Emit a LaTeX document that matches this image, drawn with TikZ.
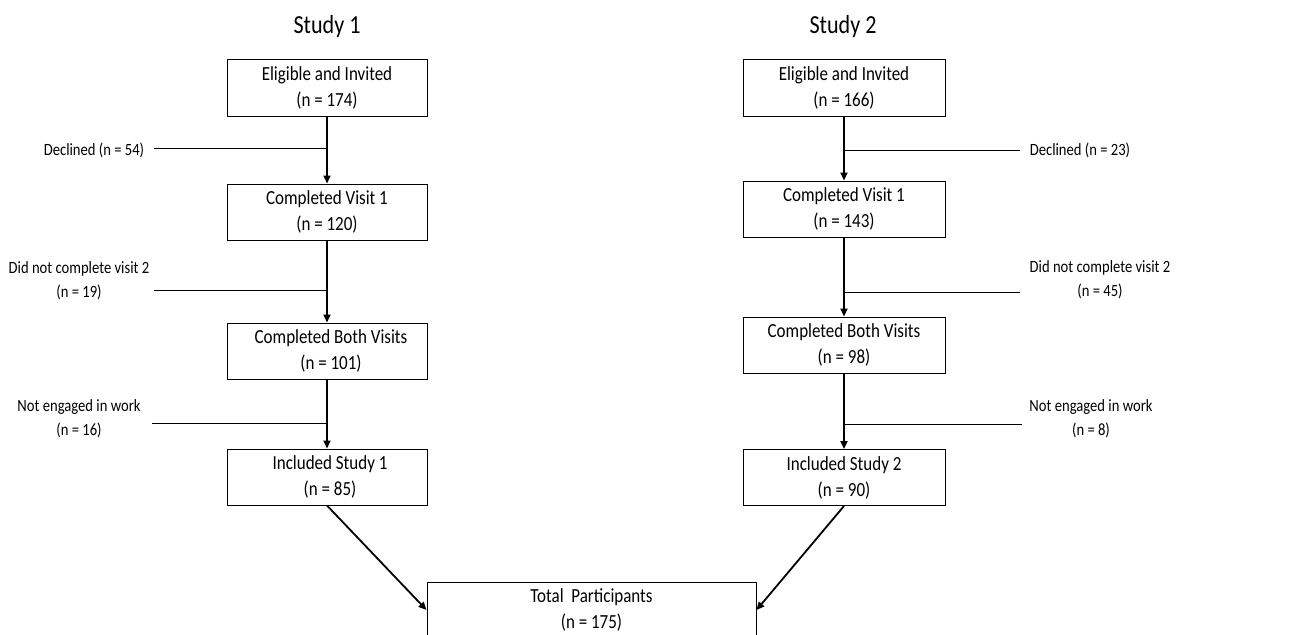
\documentclass[tikz,border=0pt]{standalone}
\usepackage{fontspec}
\setmainfont{Carlito}[FakeStretch=0.85]
\usetikzlibrary{arrows.meta}
\begin{document}
\begin{tikzpicture}[x=1pt,y=-1pt,
  box/.style={draw, line width=1pt, minimum width=200pt, minimum height=56pt, inner sep=0pt, align=center, font=\fontsize{20}{26}\selectfont},
  title/.style={font=\fontsize{26}{30}\selectfont},
  side/.style={align=center, inner sep=0pt, font=\fontsize{17.2}{24}\selectfont},
  flow/.style={line width=1.8pt, -{Triangle[length=8pt,width=7pt]}},
  branch/.style={line width=0.9pt}]
\useasboundingbox (0,0) rectangle (1297,634);

\node[title] (t1) at (327,27) {Study 1};
\node[title] (t2) at (843,27) {Study 2};

% Study 1
\node[box] (e1) at (327,88) {Eligible and Invited\\(n = 174)};
\node[box] (v1) at (327,212) {Completed Visit 1\\(n = 120)};
\node[box] (b1) at (327,351) {\hspace*{8pt}Completed Both Visits\\\hspace*{8pt}(n = 101)};
\node[box] (i1) at (327,477) {\hspace*{6pt}Included Study 1\\\hspace*{6pt}(n = 85)};

% Study 2
\node[box, minimum width=202pt] (e2) at (844,88) {Eligible and Invited\\(n = 166)};
\node[box, minimum width=202pt] (v2) at (844,209) {Completed Visit 1\\(n = 143)};
\node[box, minimum width=202pt] (b2) at (844,345) {Completed Both Visits\\(n = 98)};
\node[box, minimum width=202pt] (i2) at (844,477.5) {Included Study 2\\(n = 90)};

% Total
\node[box, minimum width=329pt] (tot) at (591.5,610) {Total\ \ Participants\\(n = 175)};

% main arrows
\draw[flow] (e1) -- (v1);
\draw[flow] (v1) -- (b1);
\draw[flow] (b1) -- (i1);
\draw[flow] (e2) -- (v2);
\draw[flow] (v2) -- (b2);
\draw[flow] (b2) -- (i2);
\draw[flow] (i1.south) -- (tot.west);
\draw[flow] (i2.south) -- (tot.east);

% side labels
\node[side] (l1) at (94,150) {Declined (n = 54)};
\node[side] (l2) at (79,280.5) {Did not complete visit 2\\(n = 19)};
\node[side] (l3) at (79,418.5) {Not engaged in work\\(n = 16)};
\node[side] (r1) at (1080,150) {Declined (n = 23)};
\node[side] (r2) at (1100,280) {Did not complete visit 2\\(n = 45)};
\node[side] (r3) at (1091,418.5) {Not engaged in work\\(n = 8)};

% branch lines
\coordinate (l1a) at (154,148); \coordinate (l1b) at (327,148);
\coordinate (l2a) at (154,290); \coordinate (l2b) at (327,290);
\coordinate (l3a) at (152,423); \coordinate (l3b) at (327,423);
\coordinate (r1a) at (1020,150); \coordinate (r1b) at (844,150);
\coordinate (r2a) at (1020,292); \coordinate (r2b) at (844,292);
\coordinate (r3a) at (1022,424); \coordinate (r3b) at (844,424);
\draw[branch] (l1a) -- (l1b);
\draw[branch] (l2a) -- (l2b);
\draw[branch] (l3a) -- (l3b);
\draw[branch] (r1a) -- (r1b);
\draw[branch] (r2a) -- (r2b);
\draw[branch] (r3a) -- (r3b);
\end{tikzpicture}
\end{document}
